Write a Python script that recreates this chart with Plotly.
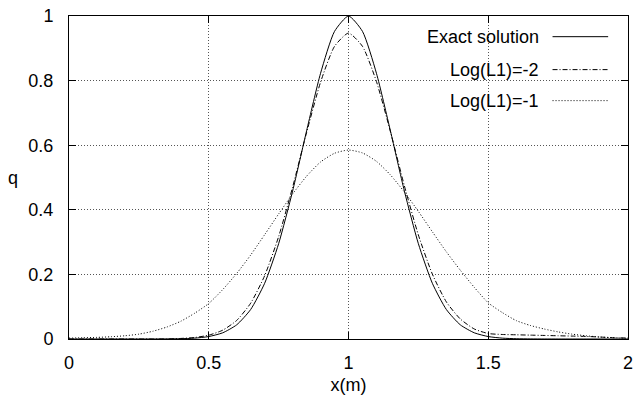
import plotly.graph_objects as go

# x positions (m)
x = [0.00, 0.05, 0.10, 0.15, 0.20, 0.25, 0.30, 0.35, 0.40, 0.45,
     0.50, 0.55, 0.60, 0.65, 0.70, 0.75, 0.80, 0.85, 0.90, 0.95,
     1.00, 1.05, 1.10, 1.15, 1.20, 1.25, 1.30, 1.35, 1.40, 1.45,
     1.50, 1.55, 1.60, 1.65, 1.70, 1.75, 1.80, 1.85, 1.90, 1.95, 2.00]

q_exact = [0.0, 0.0, 0.0, 0.0, 0.0, 0.0, 0.0001, 0.0003, 0.0009, 0.0027,
           0.0076, 0.0192, 0.0439, 0.0914, 0.1724, 0.2950, 0.4578, 0.6444, 0.8226, 0.9524,
           1.0, 0.9524, 0.8226, 0.6444, 0.4578, 0.2950, 0.1724, 0.0914, 0.0439, 0.0192,
           0.0076, 0.0027, 0.0009, 0.0003, 0.0001, 0.0, 0.0, 0.0, 0.0, 0.0, 0.0]

q_l1_m2 = [0.0, 0.0, 0.0, 0.0, 0.0, 0.0, 0.0, 0.0002, 0.0017, 0.0047,
           0.0119, 0.0273, 0.0575, 0.111, 0.196, 0.317, 0.470, 0.639, 0.795, 0.906,
           0.947, 0.906, 0.797, 0.642, 0.474, 0.322, 0.201, 0.115, 0.062, 0.031,
           0.017, 0.014, 0.013, 0.012, 0.011, 0.010, 0.009, 0.008, 0.006, 0.004, 0.003]

q_l1_m1 = [0.003, 0.004, 0.005, 0.007, 0.010, 0.015, 0.024, 0.037, 0.055, 0.080,
           0.110, 0.153, 0.203, 0.260, 0.323, 0.387, 0.449, 0.504, 0.548, 0.575,
           0.585, 0.576, 0.550, 0.508, 0.455, 0.395, 0.332, 0.270, 0.213, 0.160,
           0.112, 0.082, 0.057, 0.042, 0.031, 0.022, 0.015, 0.010, 0.006, 0.004, 0.002]

names = ["Exact solution", "Log(L1)=-2", "Log(L1)=-1"]
series = [q_exact, q_l1_m2, q_l1_m1]
dashes = ["solid", "5px,2px,1px,2px", "1px,2px"]

x_ticks = [0, 0.5, 1, 1.5, 2]
x_tick_text = ["0", "0.5", "1", "1.5", "2"]
y_ticks = [0, 0.2, 0.4, 0.6, 0.8, 1]
y_tick_text = ["0", "0.2", "0.4", "0.6", "0.8", "1"]

FONT = "Liberation Sans, Arial, Helvetica, sans-serif"
FS = 18

fig = go.Figure()
for name, ys, d in zip(names, series, dashes):
    fig.add_trace(go.Scatter(x=x, y=ys, mode="lines", name=name,
                             line=dict(color="black", width=1, dash=d, shape="spline", smoothing=0.6),
                             showlegend=False))

# custom legend (text left, sample right, gnuplot style)
leg_y = [0.936, 0.834, 0.738]
for name, d, yy in zip(names, dashes, leg_y):
    fig.add_annotation(x=0.845, y=yy, xref="paper", yref="paper", text=name,
                       showarrow=False, xanchor="right", yanchor="middle",
                       font=dict(family=FONT, size=FS, color="black"))
    fig.add_shape(type="line", xref="paper", yref="paper", x0=0.865, x1=0.9645,
                  y0=yy, y1=yy, line=dict(color="black", width=1, dash=d))

# y label (horizontal)
fig.add_annotation(x=-0.1, y=0.5, xref="paper", yref="paper", text="q",
                   showarrow=False, xanchor="center", yanchor="middle",
                   font=dict(family=FONT, size=FS, color="black"))

axis_common = dict(showline=True, linecolor="black", linewidth=1, mirror="ticks",
                   ticks="inside", ticklen=7, tickcolor="black", tickwidth=1,
                   showgrid=True, gridcolor="#555555", gridwidth=1, griddash="1px,2px",
                   zeroline=False, tickfont=dict(family=FONT, size=FS, color="black"))

fig.update_xaxes(range=[0, 2], tickvals=x_ticks, ticktext=x_tick_text,
                 title=dict(text="x(m)", font=dict(family=FONT, size=FS, color="black"), standoff=6),
                 ticklabelstandoff=7, **axis_common)
fig.update_yaxes(range=[0, 1], tickvals=y_ticks, ticktext=y_tick_text,
                 ticklabelstandoff=11, **axis_common)

fig.update_layout(width=639, height=400,
                  margin=dict(l=69, r=6, t=10, b=61),
                  plot_bgcolor="white", paper_bgcolor="white",
                  font=dict(family=FONT, size=FS, color="black"))

fig.write_html("out.html")
